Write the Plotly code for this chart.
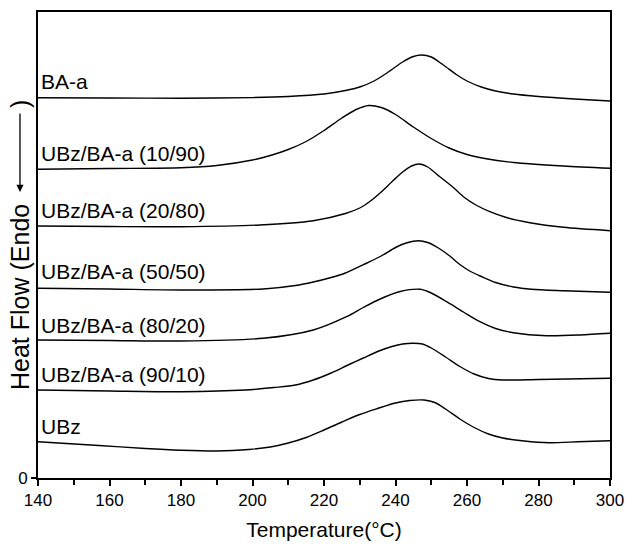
import plotly.graph_objects as go

# Temperature (°C) sample points and heat-flow readings (arbitrary units, curves offset vertically)
t_ba = [140, 160, 180, 200, 210, 220, 226, 230, 234, 238, 242, 245, 247.3, 250, 253.4, 257, 260, 264, 268, 273, 280, 290, 300]
hf_ba = [380.3, 380, 379.8, 380.4, 381.5, 384, 387.5, 391, 397, 406, 416, 421.5, 423, 421, 413, 403.5, 397, 391, 387, 384, 381.5, 379, 377]

t_1090 = [140, 160, 180, 190, 200, 205, 210, 215, 220, 225, 229, 232.5, 236, 240, 245, 250, 255, 260, 265, 273, 287, 300]
hf_1090 = [308.7, 309.5, 310.3, 312.5, 318, 322.5, 328.5, 336.5, 347.5, 360, 368.5, 372.5, 370.5, 363.5, 351, 339.5, 330, 323.5, 319.5, 315.5, 312, 309.7]

t_2080 = [140, 160, 180, 202, 217, 226, 230, 233, 236, 239.5, 242, 244.5, 246.6, 249, 252.4, 256, 259, 262.5, 266.4, 271, 277.6, 287, 300]
hf_2080 = [252, 251.5, 251.3, 253, 257.3, 264.5, 270, 277, 286, 298, 306, 312, 314, 311, 301.3, 291, 281.3, 273, 266.3, 260.5, 255.3, 250.7, 247.3]

t_5050 = [140, 160, 180, 203, 212, 217, 222, 226, 232, 236, 240, 243, 246.5, 249, 252, 255, 258, 261, 264, 268, 273, 278, 287, 300]
hf_5050 = [189.7, 189, 188, 189, 192.5, 196, 200.5, 205, 215, 222, 230.5, 235, 237.3, 235.5, 230, 222.5, 213.5, 206.5, 201.5, 195.5, 191, 188.8, 187.3, 185.7]

t_8020 = [140, 160, 180, 203, 217, 226.3, 231, 235.7, 241.3, 246.9, 250, 254.3, 259, 263.6, 268, 273, 282.3, 291.6, 300]
hf_8020 = [138, 137.5, 137, 139.7, 148, 161.3, 170.5, 179, 186.5, 188.7, 185, 176.3, 166, 156.3, 149.5, 145.3, 142.3, 143, 144.7]

t_9010 = [140, 160, 180, 198, 206, 212, 217, 222, 227, 231, 235, 239, 242, 245, 247.5, 250, 254, 258, 262, 266, 270, 280, 300]
hf_9010 = [88, 87, 86.3, 88, 90.5, 93, 98, 105, 113.5, 120, 126.5, 131.5, 134, 134.7, 134, 130, 121, 111.5, 104, 99.5, 98, 98.5, 99.7]

t_ubz = [140, 157, 170, 180, 190, 199, 205, 210, 215, 220, 225, 230, 235, 240, 244, 248, 251, 254, 258, 262, 266, 270, 276, 283, 291, 300]
hf_ubz = [36.3, 32.5, 29.5, 27.8, 27, 28.5, 31, 35, 40.5, 48, 56, 63.5, 69.5, 75, 77.5, 78, 75.5, 69, 59, 50.5, 44, 40, 37, 35.3, 36.2, 37.3]

series_names = ["BA-a", "UBz/BA-a (10/90)", "UBz/BA-a (20/80)", "UBz/BA-a (50/50)",
                "UBz/BA-a (80/20)", "UBz/BA-a (90/10)", "UBz"]
series_t = [t_ba, t_1090, t_2080, t_5050, t_8020, t_9010, t_ubz]
series_hf = [hf_ba, hf_1090, hf_2080, hf_5050, hf_8020, hf_9010, hf_ubz]
label_y = [397, 325, 268, 207, 153, 104, 52]

x_ticks = [140, 160, 180, 200, 220, 240, 260, 280, 300]
y_ticks = [0]

FONT = "Liberation Sans, Arial, sans-serif"

fig = go.Figure()
for name, t, hf in zip(series_names, series_t, series_hf):
    fig.add_trace(go.Scatter(x=t, y=hf, mode="lines", name=name,
                             line=dict(color="black", width=1.4, shape="spline", smoothing=0.8),
                             showlegend=False, hoverinfo="skip"))

for name, ly in zip(series_names, label_y):
    fig.add_annotation(x=140, y=ly, xref="x", yref="y", text=name, showarrow=False,
                       xanchor="left", yanchor="middle", xshift=1,
                       font=dict(family=FONT, size=21, color="black"))

# y-axis title: "Heat Flow (Endo ⟵ )" built from rotated text + an arrow
fig.add_annotation(x=-0.0315, y=0.1845, xref="paper", yref="paper", text="Heat Flow (Endo",
                   textangle=-90, showarrow=False, xanchor="center", yanchor="bottom",
                   font=dict(family=FONT, size=25, color="black"))
fig.add_annotation(x=-0.0315, y=0.6137, xref="paper", yref="paper", text="",
                   showarrow=True, ax=0, ay=-80, arrowhead=2, arrowsize=1.1, arrowwidth=1.3,
                   arrowcolor="black")
fig.add_annotation(x=-0.0315, y=0.8026, xref="paper", yref="paper", text=")",
                   textangle=-90, showarrow=False, xanchor="center", yanchor="middle",
                   font=dict(family=FONT, size=25, color="black"))

fig.update_layout(
    width=626, height=546,
    margin=dict(l=38, r=16, t=12, b=68),
    paper_bgcolor="white", plot_bgcolor="white",
    font=dict(family=FONT, color="black"),
)
fig.update_xaxes(range=[140, 300], tickvals=x_ticks, ticks="outside", ticklen=6, tickwidth=1.5,
                 tickcolor="black", showline=True, linecolor="black", linewidth=1.8, mirror=True,
                 showgrid=False, zeroline=False, tickfont=dict(size=17, family=FONT),
                 ticklabeloverflow="allow", automargin=False,
                 minor=dict(dtick=10, tick0=140, ticks="outside", ticklen=5, tickwidth=1.5, tickcolor="black"),
                 title=dict(text="Temperature(\u00b0C)", font=dict(size=21, family=FONT), standoff=13))
fig.update_yaxes(range=[0, 466], tickvals=y_ticks, ticks="outside", ticklen=5, tickwidth=1.5,
                 tickcolor="black", showline=True, linecolor="black", linewidth=1.8, mirror=True,
                 showgrid=False, zeroline=False, tickfont=dict(size=17, family=FONT),
                 automargin=False)

# remove the browser's default 8px body margin so the 626x546 figure fills the window exactly
fig.write_html("out.html", config={"displayModeBar": False},
               post_script="document.body.style.margin='0';document.documentElement.style.overflow='hidden';")
